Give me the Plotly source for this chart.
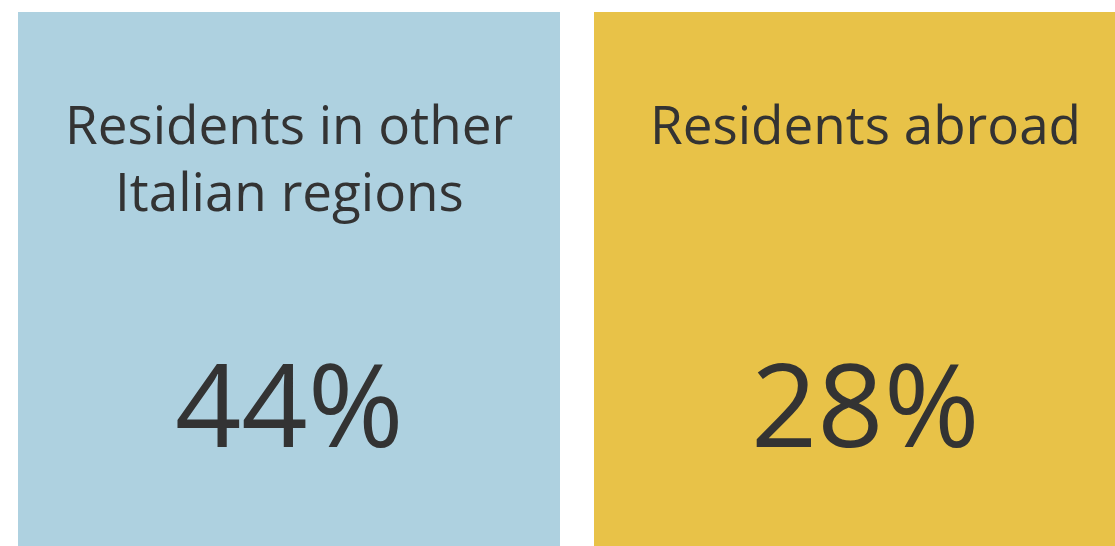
import plotly.graph_objects as go

# Data
labels = ["Residents in other<br>Italian regions", "Residents abroad"]
shares = [44, 28]
tile_colors = ["#aed1e0", "#e8c248"]

TEXT_COLOR = "#333333"
FONT = "Open Sans, Noto Sans, sans-serif"

W, H = 1115, 546
pitch = 576          # px between tile starts
tile_w = 542         # px tile width
left_pad = 18        # px before first tile
top_pad = 12         # px above tiles

x0 = -0.5 * tile_w / pitch - left_pad / pitch
x_range = [x0, x0 + W / pitch]
y_range = [0, H / (H - top_pad)]


def y_at(px):
    """Convert a pixel row (from figure top) to data y."""
    return 1 - (px - top_pad) / (H - top_pad)


fig = go.Figure()

fig.add_trace(
    go.Bar(
        x=list(range(len(labels))),
        y=[1] * len(labels),
        width=tile_w / pitch,
        marker={"color": tile_colors, "line": {"width": 0}},
        hoverinfo="skip",
        showlegend=False,
    )
)

for i, (label, share) in enumerate(zip(labels, shares)):
    for j, line in enumerate(label.split("<br>")):
        fig.add_annotation(
            x=i,
            y=y_at(123 + j * 67),
            xref="x",
            yref="y",
            text=line,
            showarrow=False,
            yanchor="middle",
            font={"family": FONT, "size": 53, "color": TEXT_COLOR},
        )
    fig.add_annotation(
        x=i,
        y=y_at(402),
        xref="x",
        yref="y",
        text=f"{share}%",
        showarrow=False,
        yanchor="middle",
        font={"family": FONT, "size": 116, "color": TEXT_COLOR},
    )

fig.update_layout(
    width=W,
    height=H,
    margin={"l": 0, "r": 0, "t": 0, "b": 0},
    paper_bgcolor="white",
    plot_bgcolor="white",
    xaxis={"range": x_range, "visible": False, "fixedrange": True},
    yaxis={"range": y_range, "visible": False, "fixedrange": True},
    bargap=0,
)

# drop the default body margin so the figure fills the window exactly
fig.write_html(
    "out.html",
    config={"displayModeBar": False},
    post_script="document.body.style.margin='0';document.body.style.overflow='hidden';",
)
